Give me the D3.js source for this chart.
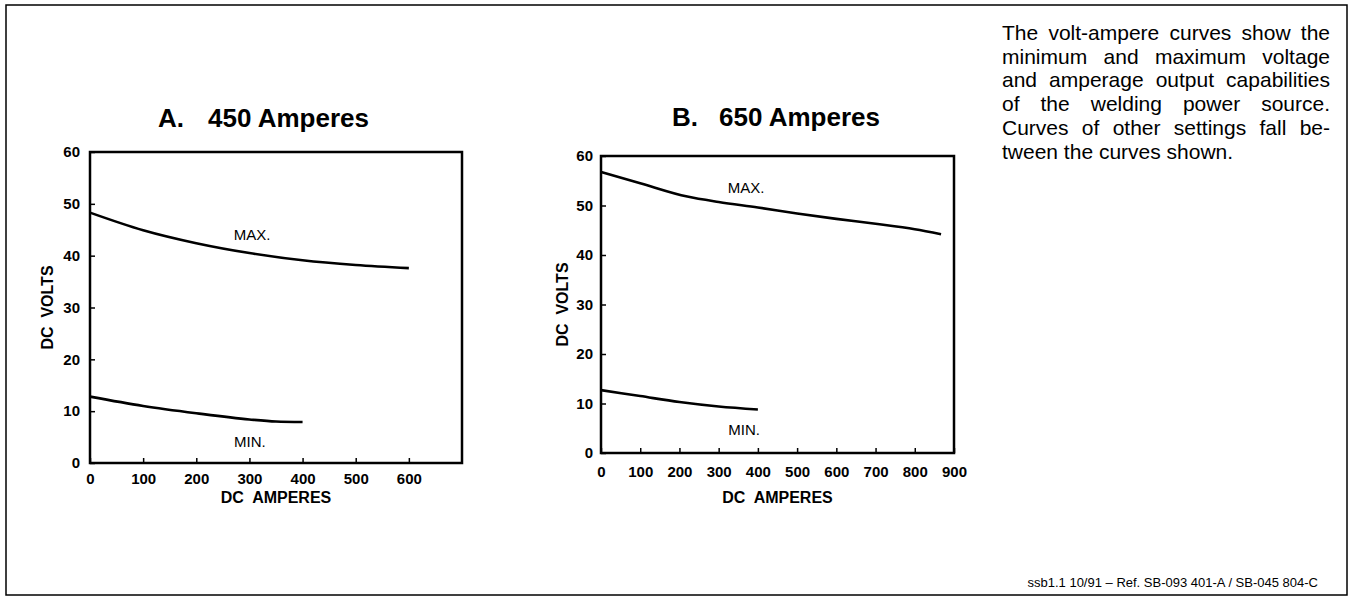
<!DOCTYPE html>
<html>
<head>
<meta charset="utf-8">
<script src="https://cdn.jsdelivr.net/npm/d3@7"></script>
<style>
  html, body { margin: 0; padding: 0; background: #fff; }
  svg { display: block; font-family: "Liberation Sans", Arial, Helvetica, sans-serif; }
</style>
</head>
<body>
<svg id="chart" width="1351" height="598"></svg>
<script>
// ---- data ----
const voltTicks = [0, 10, 20, 30, 40, 50, 60];
const ampTicksA = [0, 100, 200, 300, 400, 500, 600];
const ampTicksB = [0, 100, 200, 300, 400, 500, 600, 700, 800, 900];

const maxAmpsA  = [0, 100, 200, 300, 400, 500, 600];
const maxVoltsA = [48.3, 44.9, 42.4, 40.5, 39.1, 38.2, 37.6];
const minAmpsA  = [0, 100, 200, 300, 350, 400];
const minVoltsA = [12.8, 11.0, 9.6, 8.4, 8.0, 7.9];

const maxAmpsB  = [0, 100, 220, 300, 400, 500, 600, 700, 800, 867];
const maxVoltsB = [56.8, 54.5, 51.8, 50.7, 49.6, 48.4, 47.3, 46.3, 45.2, 44.2];
const minAmpsB  = [0, 100, 200, 300, 400];
const minVoltsB = [12.7, 11.5, 10.3, 9.4, 8.8];

const titleLetters = ["A.", "B."];
const titleTexts = ["450 Amperes", "650 Amperes"];
const curveLabels = ["MAX.", "MIN."];
const labelAmpsA = [305, 301];
const labelVoltsA = [44.0, 4.1];
const labelAmpsB = [370, 365];
const labelVoltsB = [53.6, 4.8];

const noteLines = [
  "The volt-ampere curves show the",
  "minimum and maximum voltage",
  "and amperage output capabilities",
  "of the welding power source.",
  "Curves of other settings fall be-",
  "tween the curves shown."
];
const footerText = "ssb1.1 10/91 \u2013 Ref. SB-093 401-A / SB-045 804-C";

// ---- drawing ----
const svg = d3.select("#chart");

// outer border
svg.append("rect").attr("x", 6).attr("y", 5).attr("width", 1341).attr("height", 590)
  .attr("fill", "none").attr("stroke", "#000").attr("stroke-width", 1.5);

function drawPanel(cfg) {
  const x = d3.scaleLinear().domain([0, cfg.xMax]).range([cfg.left, cfg.right]);
  const y = d3.scaleLinear().domain([0, 60]).range([cfg.bottom, cfg.top]);
  const g = svg.append("g");

  // title
  const t = g.append("text")
    .attr("x", cfg.titleX).attr("y", cfg.titleY)
    .attr("font-size", 26).attr("font-weight", "bold").attr("fill", "#000");
  t.append("tspan").text(cfg.letter);
  t.append("tspan").attr("dx", cfg.titleGap).text(cfg.title);

  // y axis (inward ticks)
  const ya = g.append("g").attr("transform", `translate(${cfg.left},0)`)
    .call(d3.axisLeft(y).tickValues(voltTicks).tickSizeInner(-5).tickSizeOuter(0)
      .tickPadding(cfg.yPad).tickFormat(d3.format("d")));
  ya.select(".domain").remove();
  ya.selectAll("line").attr("stroke", "#000").attr("stroke-width", 1.5);
  ya.selectAll("text").attr("font-size", 15).attr("font-weight", "bold")
    .attr("font-family", "Liberation Sans, Arial, sans-serif").attr("fill", "#000");

  // x axis (inward ticks)
  const xa = g.append("g").attr("transform", `translate(0,${cfg.bottom})`)
    .call(d3.axisBottom(x).tickValues(cfg.ticks).tickSizeInner(-5).tickSizeOuter(0)
      .tickPadding(cfg.xPad).tickFormat(d3.format("d")));
  xa.select(".domain").remove();
  xa.selectAll("line").attr("stroke", "#000").attr("stroke-width", 1.5);
  xa.selectAll("text").attr("font-size", 15).attr("font-weight", "bold")
    .attr("font-family", "Liberation Sans, Arial, sans-serif").attr("fill", "#000");

  // frame
  g.append("rect").attr("x", cfg.left).attr("y", cfg.top)
    .attr("width", cfg.right - cfg.left).attr("height", cfg.bottom - cfg.top)
    .attr("fill", "none").attr("stroke", "#000").attr("stroke-width", 2.5);

  // axis titles
  g.append("text").attr("x", (cfg.left + cfg.right) / 2).attr("y", cfg.xTitleY)
    .attr("text-anchor", "middle").attr("font-size", 16).attr("font-weight", "bold")
    .text("DC\u00a0 AMPERES");
  g.append("text")
    .attr("transform", `translate(${cfg.yTitleX},${(cfg.top + cfg.bottom) / 2}) rotate(-90)`)
    .attr("text-anchor", "middle").attr("font-size", 16).attr("font-weight", "bold")
    .text("DC\u00a0 VOLTS");

  // curves
  const line = d3.line().x(d => x(d[0])).y(d => y(d[1])).curve(d3.curveMonotoneX);
  [[cfg.maxA, cfg.maxV], [cfg.minA, cfg.minV]].forEach(([a, v]) => {
    g.append("path").datum(a.map((d, i) => [d, v[i]]))
      .attr("d", line).attr("fill", "none").attr("stroke", "#000")
      .attr("stroke-width", 2.6).attr("stroke-linecap", "butt");
  });

  // curve labels
  curveLabels.forEach((lab, i) => {
    g.append("text").attr("x", x(cfg.labA[i])).attr("y", y(cfg.labV[i]))
      .attr("dy", "0.36em").attr("text-anchor", "middle")
      .attr("font-size", 15).attr("fill", "#000").text(lab);
  });
}

drawPanel({
  left: 90, right: 462, top: 152, bottom: 463, xMax: 700, ticks: ampTicksA,
  yPad: 10, xPad: 10, xTitleY: 503, yTitleX: 53,
  titleX: 158, titleY: 127, titleGap: 24, letter: titleLetters[0], title: titleTexts[0],
  maxA: maxAmpsA, maxV: maxVoltsA, minA: minAmpsA, minV: minVoltsA,
  labA: labelAmpsA, labV: labelVoltsA
});
drawPanel({
  left: 601, right: 954, top: 156, bottom: 453, xMax: 900, ticks: ampTicksB,
  yPad: 8, xPad: 13, xTitleY: 503, yTitleX: 568,
  titleX: 672, titleY: 126, titleGap: 21, letter: titleLetters[1], title: titleTexts[1],
  maxA: maxAmpsB, maxV: maxVoltsB, minA: minAmpsB, minV: minVoltsB,
  labA: labelAmpsB, labV: labelVoltsB
});

// explanatory note, justified
const noteX = 1002, noteW = 328;
noteLines.forEach((ln, i) => {
  const t = svg.append("text").attr("x", noteX).attr("y", 40 + i * 23.7)
    .attr("font-size", 21).attr("fill", "#000").text(ln);
  if (i < noteLines.length - 1) {
    const w = t.node().getComputedTextLength();
    const n = (ln.match(/ /g) || []).length;
    if (n > 0) t.style("word-spacing", ((noteW - w) / n) + "px");
  }
});

// footer
svg.append("text").attr("x", 1318).attr("y", 587).attr("text-anchor", "end")
  .attr("font-size", 13).attr("fill", "#000").text(footerText);
</script>
</body>
</html>
